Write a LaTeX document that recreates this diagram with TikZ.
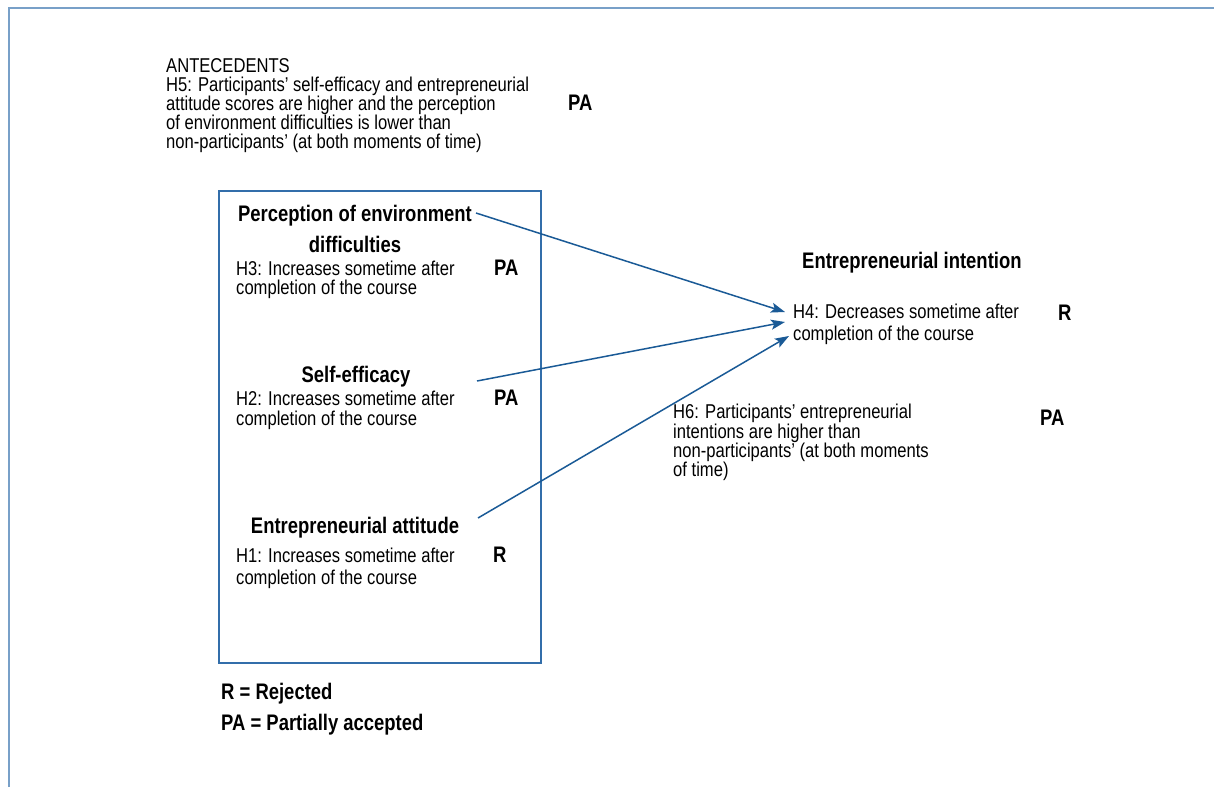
\documentclass[tikz,border=0pt]{standalone}
\usepackage{fontspec}
\setmainfont{Liberation Sans}[FakeStretch=0.83]
\newfontfamily\hbold{Liberation Sans}[FakeStretch=0.82]
\usetikzlibrary{arrows.meta}
\definecolor{framecol}{RGB}{120,160,200}
\definecolor{boxcol}{RGB}{50,110,170}
\definecolor{arrcol}{RGB}{26,90,150}
\begin{document}
\begin{tikzpicture}[x=1pt,y=-1pt,
  reg/.style={anchor=base west,inner sep=0pt,font=\fontsize{20}{21}\selectfont},
  bld/.style={anchor=base west,inner sep=0pt,font=\hbold\bfseries\fontsize{22.5}{30}\selectfont},
  bldc/.style={bld,anchor=base},
  boxst/.style={draw=boxcol,line width=1.2pt,inner sep=0pt},
  arr/.style={draw=arrcol,line width=1.5pt,-{Stealth[length=14pt,width=10pt,inset=3pt]}}]
\useasboundingbox (0,0) rectangle (1214,787);
% frame
\draw[framecol,line width=2pt] (9,787) -- (9,8) -- (1214,8);
% antecedents
\node[reg] (ant) at (166,72) {ANTECEDENTS};
\node[reg] (h5a) at (166,91) {H5: Participants’ self-efficacy and entrepreneurial};
\node[reg] (h5b) at (166,110) {attitude scores are higher and the perception};
\node[reg] (h5c) at (166,129) {of environment difficulties is lower than};
\node[reg] (h5d) at (166,148) {non-participants’ (at both moments of time)};
\node[bld] (h5pa) at (568,110) {PA};
% box
\node[boxst,minimum width=322pt,minimum height=472pt] (box) at (380,427) {};
% perception
\node[bldc] (pe1) at (355,221) {Perception of environment};
\node[bldc] (pe2) at (355,252) {difficulties};
\node[reg] (h3a) at (236,275) {H3: Increases sometime after};
\node[reg] (h3b) at (236,294) {completion of the course};
\node[bld] (h3pa) at (494,275) {PA};
% self-efficacy
\node[bldc] (se) at (356,382) {Self-efficacy};
\node[reg] (h2a) at (236,405) {H2: Increases sometime after};
\node[reg] (h2b) at (236,425) {completion of the course};
\node[bld] (h2pa) at (494,405) {PA};
% attitude
\node[bldc] (ea) at (355,533) {Entrepreneurial attitude};
\node[reg] (h1a) at (236,562) {H1: Increases sometime after};
\node[reg] (h1b) at (236,584) {completion of the course};
\node[bld] (h1r) at (493,562) {R};
% intention
\node[bld] (ei) at (802,268) {Entrepreneurial intention};
\node[reg] (h4a) at (793,318) {H4: Decreases sometime after};
\node[reg] (h4b) at (793,340) {completion of the course};
\node[bld] (h4r) at (1058,320) {R};
% H6
\node[reg] (h6a) at (673,418) {H6: Participants’ entrepreneurial};
\node[reg] (h6b) at (673,438) {intentions are higher than};
\node[reg] (h6c) at (673,457) {non-participants’ (at both moments};
\node[reg] (h6d) at (673,476) {of time)};
\node[bld] (h6pa) at (1040,425) {PA};
% legend
\node[bld] (lr) at (221,699) {R = Rejected};
\node[bld] (lpa) at (221,730) {PA = Partially accepted};
% arrows
\coordinate (s1) at (476,213);
\coordinate (s2) at (477,381);
\coordinate (s3) at (478,518);
\coordinate (e1) at (785,312);
\coordinate (e2) at (785,322);
\coordinate (e3) at (789,336);
\draw[arr] (s1) -- (e1);
\draw[arr] (s2) -- (e2);
\draw[arr] (s3) -- (e3);
\end{tikzpicture}
\end{document}
